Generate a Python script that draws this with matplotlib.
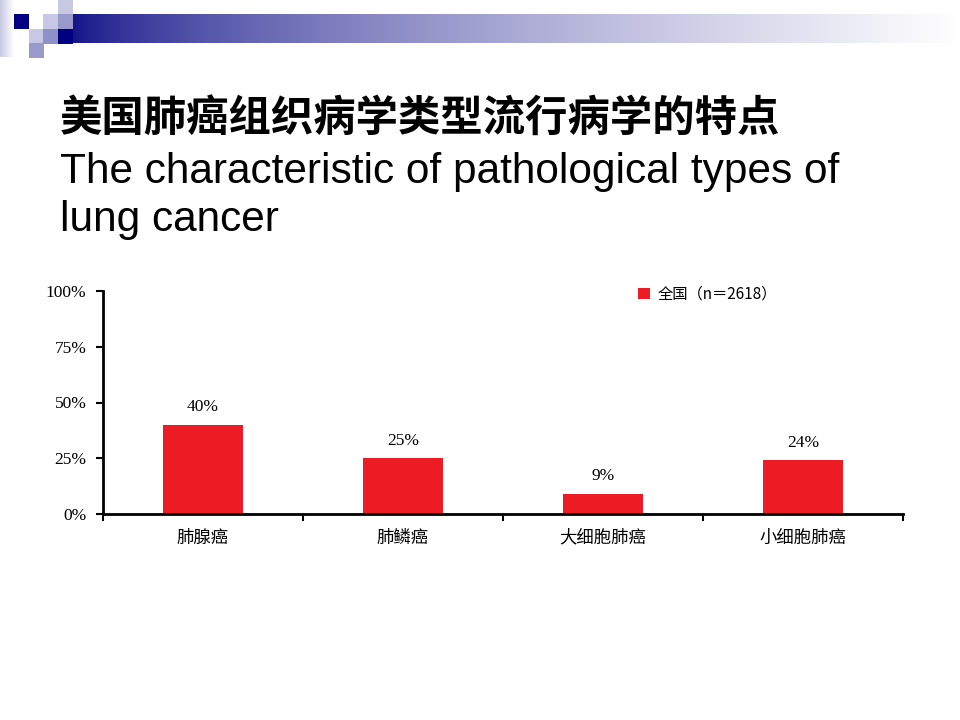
import numpy as np
import matplotlib
matplotlib.use('Agg')
import matplotlib.pyplot as plt
from matplotlib.patches import Rectangle

# data
types = ['肺腺癌', '肺鳞癌', '大细胞肺癌', '小细胞肺癌']
share = [40, 25, 9, 24]
yticks = [0, 25, 50, 75, 100]
legend_label = '全国（n＝2618）'
title_cn = '美国肺癌组织病学类型流行病学的特点'
title_en = 'The characteristic of pathological types of\nlung cancer'

red = '#ed1c24'
cjk = ['Noto Sans CJK SC', 'DejaVu Sans']
serif = ['Liberation Serif', 'DejaVu Serif']

fig = plt.figure(figsize=(9.6, 7.2), dpi=100)

# slide decoration (pixel coords)
bg = fig.add_axes([0, 0, 1, 1], zorder=-1)
bg.set_xlim(0, 960)
bg.set_ylim(720, 0)
bg.axis('off')
t = np.linspace(0, 1, 400) ** 0.6
navy = np.array([0, 0, 128]) / 255.
grad = navy[None, :] * (1 - t[:, None]) + t[:, None]
bg.imshow(grad[None, :, :], extent=(58, 960, 43, 14), aspect='auto', zorder=1)
side = np.linspace(0, 1, 50)
lav = np.array([200, 200, 228]) / 255.
sg = lav[None, :] * (1 - side[:, None]) + side[:, None]
bg.imshow(sg[None, :, :], extent=(0, 14, 57, 0), aspect='auto', zorder=1)
for (x0, y0, c) in [(14, 14, '#000080'), (43, 14, '#c8c8e6'), (58, 0, '#c8c8e2'),
                    (58, 14, '#9999cc'), (29, 29, '#c8c8e6'), (43, 29, '#9090c8'),
                    (29, 43, '#9999cc'), (58, 29, '#000080')]:
    bg.add_patch(Rectangle((x0, y0), 14.5, 14.5, color=c, zorder=2, lw=0))

fig.text(60 / 960, 1 - 120 / 720, title_cn, family=cjk, weight='bold',
         fontsize=30.5, va='center', ha='left')
fig.text(60 / 960, 1 - 152 / 720, title_en, family=['Liberation Sans', 'DejaVu Sans'],
         fontsize=30.5, va='top', ha='left', linespacing=1.27)

# chart
ax = fig.add_axes([103 / 960, 1 - 514 / 720, 800 / 960, 223 / 720])
x = np.arange(len(types))
bars = ax.bar(x, share, width=0.4, color=red, label=legend_label)
for xi, v in zip(x, share):
    ax.annotate(f'{v}%', (xi, v), xytext=(0, 7), textcoords='offset points',
                ha='center', va='bottom', fontsize=12.5, family=serif)

ax.set_xlim(-0.5, len(types) - 0.5)
ax.set_ylim(0, 100)
ax.set_yticks(yticks)
ax.set_yticklabels([f'{v}%' for v in yticks], family=serif, fontsize=12.5)
ax.set_xticks(x)
ax.set_xticklabels(types, family=cjk, fontsize=12.5, weight='light')
ax.set_xticks(np.arange(len(types) + 1) - 0.5, minor=True)
ax.tick_params(axis='x', which='major', length=0, pad=10.5)
ax.tick_params(axis='x', which='minor', length=5, width=1.5, direction='out')
ax.tick_params(axis='y', length=5, width=1.5, direction='out', pad=7)
for s in ['top', 'right']:
    ax.spines[s].set_visible(False)
for s in ['left', 'bottom']:
    ax.spines[s].set_linewidth(2)

ax.legend(loc='upper left', bbox_to_anchor=(624 / 960, 1 - 272 / 720),
          bbox_transform=fig.transFigure, frameon=False,
          prop={'family': cjk, 'size': 11, 'weight': 'light'},
          handlelength=0.8, handleheight=0.8, handletextpad=0.5)

fig.savefig('out.png', dpi=100, facecolor='white')
